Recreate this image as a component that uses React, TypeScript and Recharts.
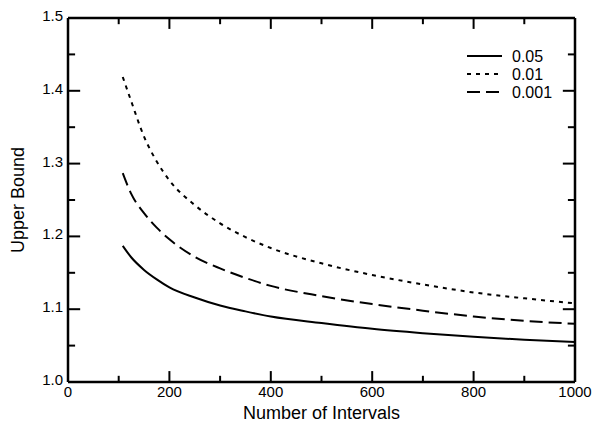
import React from 'react';
import { LineChart, Line, XAxis, YAxis, Legend, ReferenceLine } from 'recharts';

const intervals = [108, 125, 150, 175, 200, 250, 300, 350, 400, 500, 600, 700, 800, 900, 1000];
const bound005 = [1.187, 1.171, 1.154, 1.141, 1.130, 1.116, 1.105, 1.097, 1.090, 1.081, 1.073, 1.067, 1.062, 1.058, 1.055];
const bound001 = [1.419, 1.385, 1.337, 1.303, 1.277, 1.243, 1.218, 1.199, 1.184, 1.163, 1.147, 1.134, 1.123, 1.115, 1.108];
const bound0001 = [1.287, 1.258, 1.232, 1.212, 1.196, 1.172, 1.156, 1.143, 1.132, 1.118, 1.107, 1.098, 1.090, 1.084, 1.080];

const seriesLabels = ['0.05', '0.01', '0.001'];
const seriesKeys = ['a', 'b', 'c'];
const seriesDash = ['', '4 5', '13 6'];

const xTicks = [0, 100, 200, 300, 400, 500, 600, 700, 800, 900, 1000];
const yTicks = [1.0, 1.05, 1.1, 1.15, 1.2, 1.25, 1.3, 1.35, 1.4, 1.45, 1.5];
const xLabelTicks = [0, 200, 400, 600, 800, 1000];
const yLabelTicks = [1.0, 1.1, 1.2, 1.3, 1.4, 1.5];

const X_MIN = 0;
const X_MAX = 1000;
const Y_MIN = 1.0;
const Y_MAX = 1.5;

const data = intervals.map((n, i) => ({ n, a: bound005[i], b: bound001[i], c: bound0001[i] }));

const FONT = '"Liberation Sans", Arial, sans-serif';

const isMajorX = (v: number) => Math.round(v) % 200 === 0;
const isMajorY = (v: number) => Math.round(v * 100) % 10 === 0;

// inner tick lengths, in data units
const xTickLen = (v: number) => (isMajorY(v) ? 24 : 14);
const yTickLen = (v: number) => (isMajorX(v) ? 0.015 : 0.0085);

const innerX = xTicks.filter((v) => v > X_MIN && v < X_MAX);
const innerY = yTicks.filter((v) => v > Y_MIN + 1e-6 && v < Y_MAX - 1e-6);

const BottomTick = (props: any) => {
  const { x, y, payload } = props;
  const v = Number(payload.value);
  if (!xLabelTicks.includes(v)) return <g />;
  return (
    <g>
      <text x={x} y={y + 15} textAnchor="middle" fontFamily={FONT} fontSize={15} fill="#000">
        {v}
      </text>
    </g>
  );
};

const LeftTick = (props: any) => {
  const { x, y, payload } = props;
  const v = Number(payload.value);
  if (!yLabelTicks.some((t) => Math.abs(t - v) < 1e-6)) return <g />;
  return (
    <g>
      <text x={x - 5} y={y + 3} textAnchor="end" fontFamily={FONT} fontSize={15} fill="#000">
        {v.toFixed(1)}
      </text>
    </g>
  );
};

const LegendContent = () => (
  <svg width={110} height={60}>
    {seriesLabels.map((lab, i) => (
      <g key={lab}>
        <line x1={1} x2={36} y1={10 + i * 18} y2={10 + i * 18} stroke="#000" strokeWidth={2} strokeDasharray={seriesDash[i] || undefined} />
        <text x={46} y={16 + i * 18} fontFamily={FONT} fontSize={16} fill="#000">
          {lab}
        </text>
      </g>
    ))}
  </svg>
);

const YLabel = (props: any) => {
  const vb = props.viewBox || {};
  const cy = (vb.y || 0) + (vb.height || 0) / 2;
  const cx = 24;
  return (
    <text x={cx} y={cy} transform={`rotate(-90 ${cx} ${cy})`} textAnchor="middle" fontFamily={FONT} fontSize={18} fill="#000">
      Upper Bound
    </text>
  );
};

const XLabel = (props: any) => {
  const vb = props.viewBox || {};
  const cx = (vb.x || 0) + (vb.width || 0) / 2;
  return (
    <text x={cx} y={419} textAnchor="middle" fontFamily={FONT} fontSize={18} fill="#000">
      Number of Intervals
    </text>
  );
};

export default function App() {
  return (
    <div style={{ position: 'absolute', left: 0, top: 0, background: '#fff' }}>
      <LineChart width={602} height={425} data={data} margin={{ top: 18, right: 27, bottom: 13, left: 8 }}>
        <XAxis
          dataKey="n"
          type="number"
          domain={[X_MIN, X_MAX]}
          ticks={xTicks}
          interval={0}
          tickSize={0}
          tickMargin={0}
          height={30}
          axisLine={{ stroke: '#000', strokeWidth: 2.5 }}
          tickLine={false}
          tick={<BottomTick />}
          label={<XLabel />}
        />
        <YAxis
          type="number"
          domain={[Y_MIN, Y_MAX]}
          ticks={yTicks}
          interval={0}
          tickSize={0}
          tickMargin={0}
          width={60}
          axisLine={{ stroke: '#000', strokeWidth: 2.5 }}
          tickLine={false}
          tick={<LeftTick />}
          label={<YLabel />}
        />
        {/* frame: top and right edges */}
        <ReferenceLine y={Y_MAX} stroke="#000" strokeWidth={2.5} ifOverflow="visible" />
        <ReferenceLine x={X_MAX} stroke="#000" strokeWidth={2.5} ifOverflow="visible" />
        {/* inward tick marks on all four sides */}
        {innerX.map((v) => (
          <ReferenceLine
            key={`b${v}`}
            segment={[{ x: v, y: Y_MIN }, { x: v, y: Y_MIN + yTickLen(v) }]}
            stroke="#000"
            strokeWidth={2}
            ifOverflow="visible"
          />
        ))}
        {innerX.map((v) => (
          <ReferenceLine
            key={`t${v}`}
            segment={[{ x: v, y: Y_MAX }, { x: v, y: Y_MAX - yTickLen(v) }]}
            stroke="#000"
            strokeWidth={2}
            ifOverflow="visible"
          />
        ))}
        {innerY.map((v) => (
          <ReferenceLine
            key={`l${v}`}
            segment={[{ x: X_MIN, y: v }, { x: X_MIN + xTickLen(v), y: v }]}
            stroke="#000"
            strokeWidth={2}
            ifOverflow="visible"
          />
        ))}
        {innerY.map((v) => (
          <ReferenceLine
            key={`r${v}`}
            segment={[{ x: X_MAX, y: v }, { x: X_MAX - xTickLen(v), y: v }]}
            stroke="#000"
            strokeWidth={2}
            ifOverflow="visible"
          />
        ))}
        <Legend
          layout="horizontal"
          verticalAlign="middle"
          align="center"
          content={<LegendContent />}
          wrapperStyle={{ position: 'absolute', left: 466, top: 46, width: 110, height: 60 }}
        />
        {seriesKeys.map((k, i) => (
          <Line
            key={k}
            type="monotone"
            dataKey={k}
            name={seriesLabels[i]}
            stroke="#000"
            strokeWidth={2}
            strokeDasharray={seriesDash[i] || undefined}
            dot={false}
            activeDot={false}
            isAnimationActive={false}
          />
        ))}
      </LineChart>
    </div>
  );
}
